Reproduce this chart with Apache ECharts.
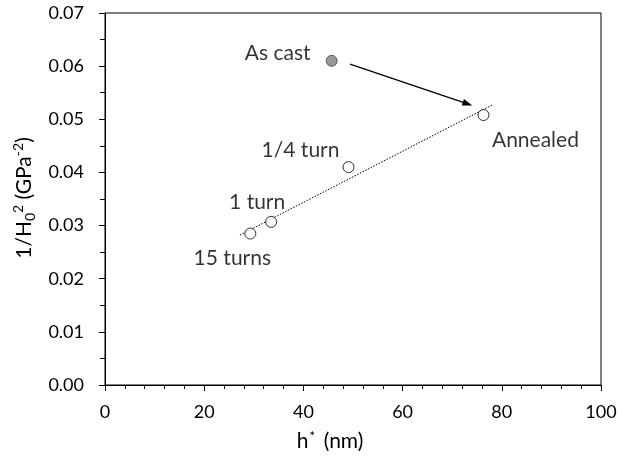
<!DOCTYPE html>
<html>
<head>
<meta charset="utf-8">
<script src="https://cdn.jsdelivr.net/npm/echarts@6/dist/echarts.min.js"></script>
<style>html,body{margin:0;padding:0;background:#fff;}#c{width:629px;height:459px;}</style>
</head>
<body>
<div id="c"></div>
<script>
const sampleNames = ['As cast', '1/4 turn', '1 turn', '15 turns', 'Annealed'];
const hStar = [45.7, 49.1, 33.5, 29.3, 76.3];
const invH2 = [0.0610, 0.0410, 0.0307, 0.0285, 0.0508];
const trendX = [27.2, 78.3];
const trendY = [0.0282, 0.0528];
const arrowX = [49.4, 73.1];
const arrowY = [0.0604, 0.0529];

const FONT = 'Lato';
const labelOffsets = {
  'As cast': [-54, -8],
  '1/4 turn': [-48, -17],
  '1 turn': [-14, -20],
  '15 turns': [-18, 25],
  'Annealed': [52, 25]
};

const pts = sampleNames.map((n, i) => {
  const filled = n === 'As cast';
  return {
    name: n,
    value: [hStar[i], invH2[i]],
    itemStyle: { color: filled ? '#808080' : '#ffffff', borderColor: filled ? '#404040' : '#000', borderWidth: 1 },
    label: { show: true, position: 'inside', offset: labelOffsets[n], formatter: n,
      color: '#000', fontFamily: FONT, fontSize: 21 }
  };
});

const chart = echarts.init(document.getElementById('c'), null, { renderer: 'canvas' });
chart.setOption({
  animation: false,
  backgroundColor: '#fff',
  grid: { left: 105, right: 28, top: 13, bottom: 74, show: true, borderColor: '#000', borderWidth: 1, backgroundColor: 'transparent' },
  xAxis: {
    type: 'value', min: 0, max: 100, interval: 20,
    name: '{a|h}{sup|*}{a| (nm)}', nameLocation: 'middle', nameGap: 44,
    nameTextStyle: { padding: [0, 46, 0, 0], rich: {
      a: { fontFamily: FONT, fontSize: 21, color: '#000', lineHeight: 24 },
      sup: { fontFamily: FONT, fontSize: 14, color: '#000', lineHeight: 14, verticalAlign: 'top', padding: [0, 3, 0, 1] }
    } },
    axisLine: { show: true, onZero: false, lineStyle: { color: '#000', width: 1 } },
    axisTick: { show: true, inside: false, length: 6, lineStyle: { color: '#000' } },
    minorTick: { show: true, splitNumber: 5, length: 4, lineStyle: { color: '#000' } },
    splitLine: { show: false },
    axisLabel: { color: '#000', fontFamily: FONT, fontSize: 18, margin: 18 }
  },
  yAxis: {
    type: 'value', min: 0, max: 0.07, interval: 0.01,
    name: '{a|1/H}{sub|0}{sup|2}{a| (GPa}{sup|-2}{a|)}', nameLocation: 'middle', nameGap: 60,
    nameTextStyle: { padding: [0, 0, 0, 2], rich: {
      a: { fontFamily: FONT, fontSize: 21, color: '#000', lineHeight: 26 },
      sup: { fontFamily: FONT, fontSize: 14, color: '#000', lineHeight: 14, verticalAlign: 'top' },
      sub: { fontFamily: FONT, fontSize: 14, color: '#000', lineHeight: 14, verticalAlign: 'bottom' }
    } },
    axisLine: { show: true, onZero: false, lineStyle: { color: '#000', width: 1 } },
    axisTick: { show: true, inside: false, length: 6, lineStyle: { color: '#000' } },
    minorTick: { show: true, splitNumber: 2, length: 5, lineStyle: { color: '#000' } },
    splitLine: { show: false },
    axisLabel: { color: '#000', fontFamily: FONT, fontSize: 18, margin: 21, formatter: v => v.toFixed(2) }
  },
  series: [
    {
      type: 'line', data: trendX.map((x, i) => [x, trendY[i]]), symbol: 'none',
      lineStyle: { color: '#000', width: 1, type: [1.5, 1.5] }, z: 2, silent: true
    },
    {
      type: 'line', data: [], symbol: 'none', silent: true,
      markLine: {
        silent: true, symbol: ['none', 'triangle'], symbolSize: [7, 10],
        lineStyle: { color: '#000', width: 1.3, type: 'solid' }, label: { show: false },
        data: [[{ coord: [arrowX[0], arrowY[0]] }, { coord: [arrowX[1], arrowY[1]] }]]
      }
    },
    {
      type: 'scatter', data: pts, symbol: 'circle', symbolSize: 11, z: 5
    }
  ]
});
</script>
</body>
</html>
